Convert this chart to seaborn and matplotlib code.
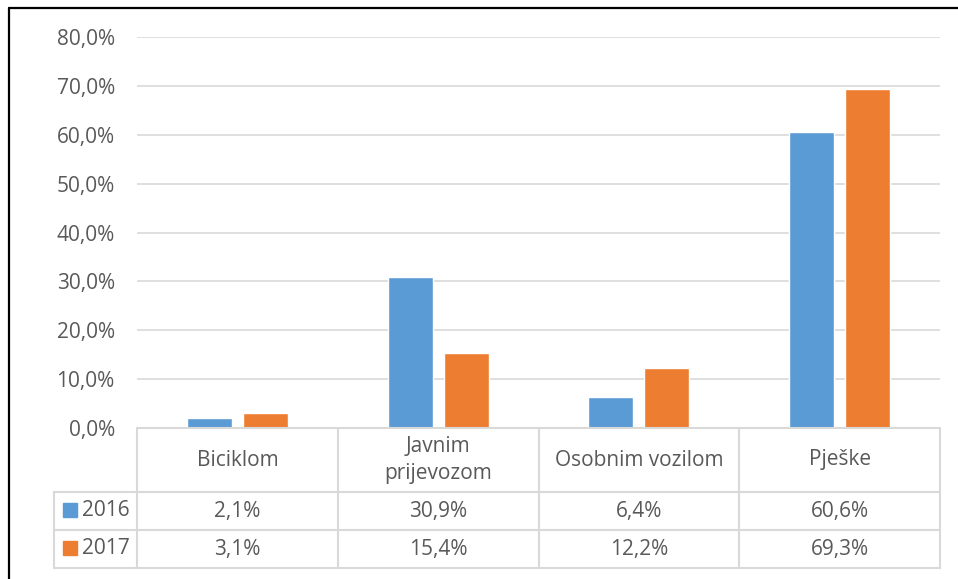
import matplotlib.pyplot as plt
import matplotlib.lines as mlines
import matplotlib.patches as mpatches
import numpy as np
import pandas as pd
import seaborn as sns

kategorije = ["Biciklom", "Javnim\nprijevozom", "Osobnim vozilom", "Pješke"]
godine = ["2016", "2017"]
udio_2016 = [2.1, 30.9, 6.4, 60.6]
udio_2017 = [3.1, 15.4, 12.2, 69.3]
boje = ["#5B9BD5", "#ED7D31"]

df = pd.DataFrame({
    "kategorija": kategorije * 2,
    "godina": [godine[0]] * 4 + [godine[1]] * 4,
    "udio": udio_2016 + udio_2017,
})

sns.set_style("white")
plt.rcParams["font.family"] = ["Open Sans", "DejaVu Sans"]
txt = "#595959"
linija = "#D9D9D9"
fs = 15

fig = plt.figure(figsize=(9.58, 5.79), dpi=100)
ax = fig.add_axes([137 / 958, 1 - 428 / 579, 803 / 958, 391 / 579])

sns.barplot(data=df, x="kategorija", y="udio", hue="godina", palette=boje,
            width=0.56, gap=0.2, ax=ax, legend=False, saturation=1)

ax.set_xlim(-0.5, 3.5)
ax.set_ylim(0, 80)
ax.set_yticks(np.arange(0, 81, 10))
ax.set_yticklabels([f"{v:.1f}%".replace(".", ",") for v in np.arange(0, 81, 10)],
                   color=txt, fontsize=fs)
ax.tick_params(axis="y", length=0, pad=16)
ax.set_xticks([])
ax.set_xlabel("")
ax.set_ylabel("")
ax.grid(axis="y", color=linija, linewidth=1.2)
ax.set_axisbelow(True)
for s in ax.spines.values():
    s.set_visible(False)

# data table under the plot
h_head = 64 / 391
h_row = 38 / 391
x_lab = -83 / 803
tr = ax.transAxes
kw = dict(color=linija, linewidth=1.5, transform=tr, clip_on=False)
y_bot = -(h_head + 2 * h_row)
ax.plot([0, 1], [0, 0], **kw)
for y in [-h_head, -h_head - h_row, y_bot]:
    ax.plot([x_lab, 1], [y, y], **kw)
ax.plot([x_lab, x_lab], [-h_head, y_bot], **kw)
for i in range(5):
    ax.plot([i / 4, i / 4], [0, y_bot], **kw)

for i, k in enumerate(kategorije):
    ax.text((i + 0.5) / 4, -h_head / 2, k, transform=tr, ha="center", va="center",
            color=txt, fontsize=fs, linespacing=1.35)
sq_w, sq_h = 14 / 803, 14 / 391
for r, (g, vals, c) in enumerate(zip(godine, [udio_2016, udio_2017], boje)):
    yc = -h_head - (r + 0.5) * h_row
    ax.add_patch(mpatches.Rectangle((-74 / 803, yc - sq_h / 2 + 1 / 391), sq_w, sq_h,
                                    color=c, transform=tr, clip_on=False))
    ax.text(x_lab + 0.035, yc, g, transform=tr, ha="left", va="center",
            color=txt, fontsize=fs)
    for i, v in enumerate(vals):
        ax.text((i + 0.5) / 4, yc, f"{v:.1f}%".replace(".", ","), transform=tr,
                ha="center", va="center", color=txt, fontsize=fs)

# outer frame of the picture (top and left)
fig.add_artist(mlines.Line2D([9 / 958, 1], [1 - 8 / 579, 1 - 8 / 579], color="black",
                             linewidth=1.6, transform=fig.transFigure))
fig.add_artist(mlines.Line2D([9 / 958, 9 / 958], [0, 1 - 8 / 579], color="black",
                             linewidth=1.6, transform=fig.transFigure))

fig.savefig("out.png", dpi=100)
